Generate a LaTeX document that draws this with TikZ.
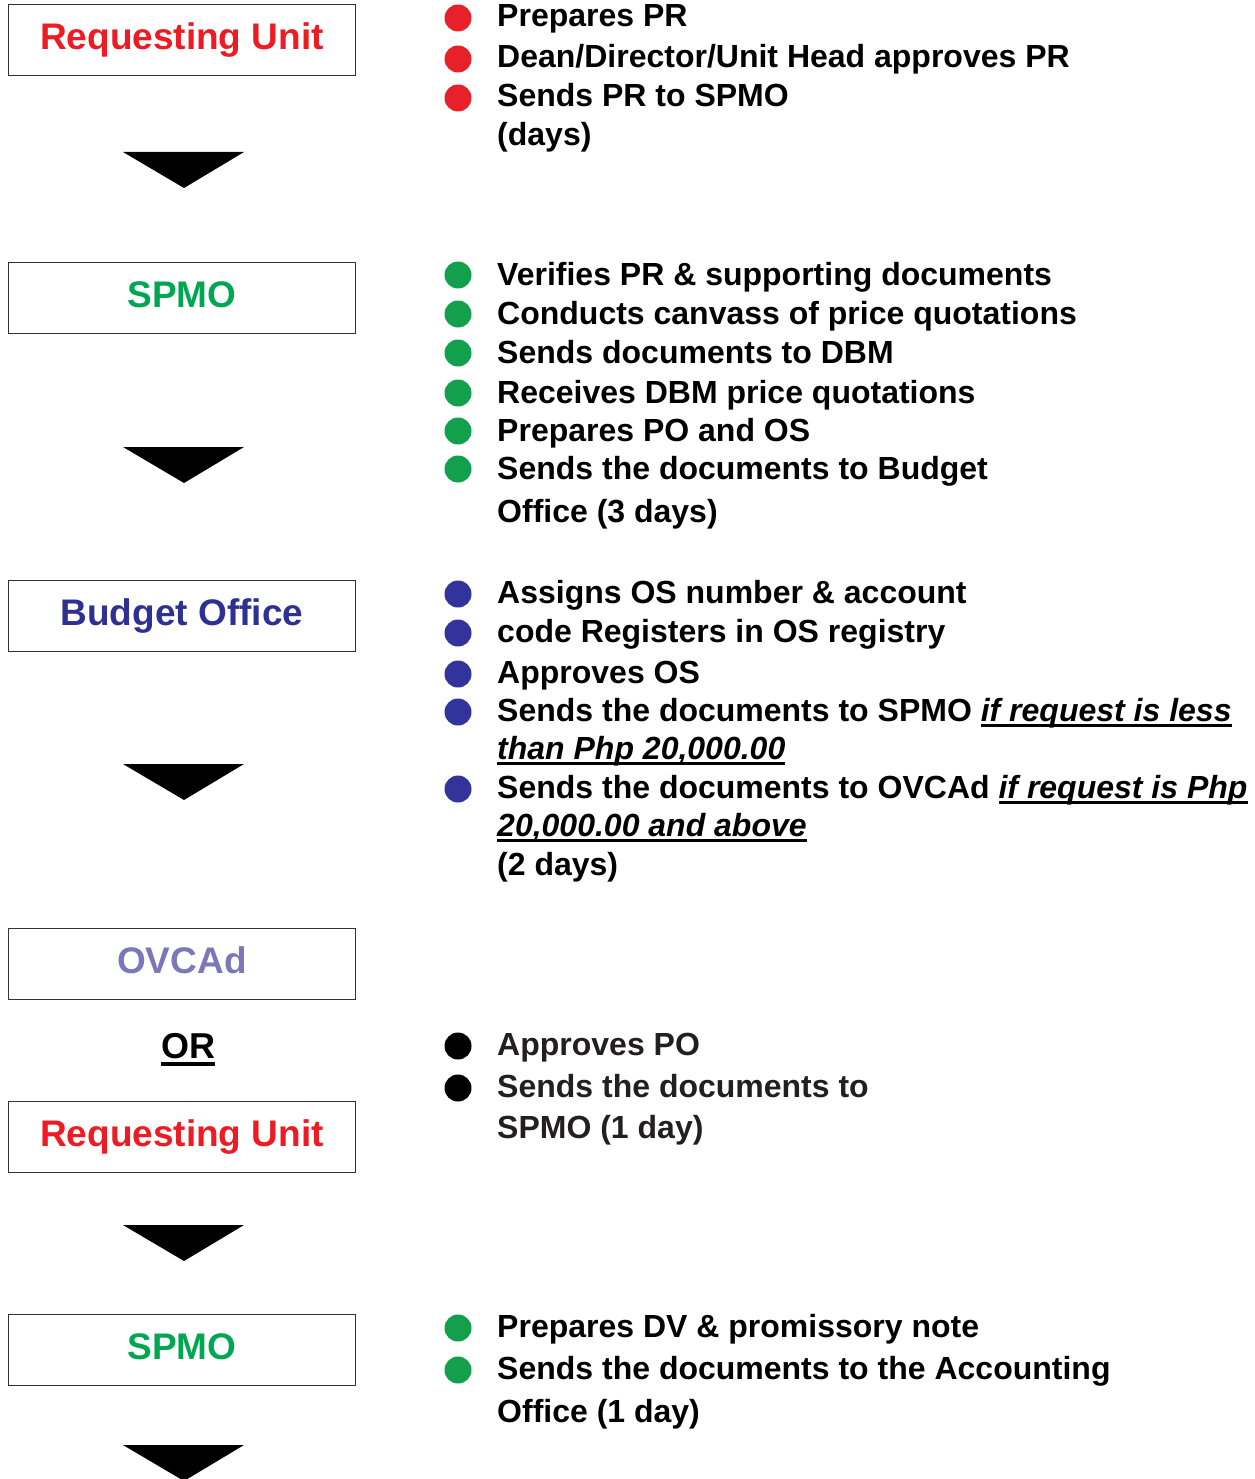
\documentclass[tikz,border=0pt]{standalone}
\usepackage{fontspec}
\setmainfont{Liberation Sans}
\definecolor{ruRed}{HTML}{ED1C24}
\definecolor{spGreen}{HTML}{00A651}
\definecolor{boBlue}{HTML}{2E3192}
\definecolor{ovLav}{HTML}{7B77B8}
\definecolor{bulRed}{HTML}{E8202A}
\definecolor{bulGreen}{HTML}{12A04C}
\definecolor{bulBlue}{HTML}{33339C}
\definecolor{darkText}{HTML}{231F20}
\newcommand\myul[1]{\leavevmode\setbox0=\hbox{#1}\rlap{\rule[-6pt]{\wd0}{2.6pt}}\box0}
\newcommand\myulthick[1]{\leavevmode\setbox0=\hbox{#1}\rlap{\rule[-7.5pt]{\wd0}{3.2pt}}\box0}
\tikzset{
  unitbox/.style={draw=black!80, line width=0.9pt, minimum width=347pt, minimum height=71pt,
    inner sep=0pt, text height=26pt, text depth=7pt, anchor=north west,
    font=\fontsize{37}{44}\selectfont\bfseries},
  itemtext/.style={anchor=base west, inner sep=0pt, font=\fontsize{32}{38}\selectfont\bfseries},
  bulletdot/.style={circle, inner sep=0pt, minimum size=27pt},
  flowarrow/.style={fill=black},
}
\newcommand\flowmark[1]{\fill[flowarrow] (123,#1) -- (244,#1) -- (184,{#1+36}) -- cycle;}
\begin{document}
\begin{tikzpicture}[x=1pt,y=-1pt]
\useasboundingbox[fill=white] (0,0) rectangle (1254,1479);

% boxes
\node[unitbox, text=ruRed] (ru1) at (8,4) {Requesting Unit};
\node[unitbox, text=spGreen] (sp1) at (8,262) {SPMO};
\node[unitbox, text=boBlue] (bo) at (8,580) {Budget Office};
\node[unitbox, text=ovLav] (ov) at (8,928) {OVCAd};
\node[anchor=base, inner sep=0pt, font=\fontsize{36}{44}\selectfont\bfseries] (or) at (188,1058) {\myulthick{OR}};
\node[unitbox, text=ruRed] (ru2) at (8,1101) {Requesting Unit};
\node[unitbox, text=spGreen] (sp2) at (8,1314) {SPMO};

% arrows
\flowmark{152}
\flowmark{447}
\flowmark{764}
\flowmark{1225}
\flowmark{1445}

% group 1
\foreach \y/\n in {27/a,68/b,107/c} \node[bulletdot, fill=bulRed] (g1\n) at (458,{\y-9}) {};
\node[itemtext] (t1a) at (497,27) {Prepares PR};
\node[itemtext] (t1b) at (497,68) {Dean/Director/Unit Head approves PR};
\node[itemtext] (t1c) at (497,107) {Sends PR to SPMO};
\node[itemtext] (t1d) at (497,146) {(days)};

% group 2
\foreach \y/\n in {285/a,324/b,363/c,403/d,441/e,479/f} \node[bulletdot, fill=bulGreen] (g2\n) at (458,{\y-10}) {};
\node[itemtext] (t2a) at (497,285) {Verifies PR \& supporting documents};
\node[itemtext] (t2b) at (497,324) {Conducts canvass of price quotations};
\node[itemtext] (t2c) at (497,363) {Sends documents to DBM};
\node[itemtext] (t2d) at (497,403) {Receives DBM price quotations};
\node[itemtext] (t2e) at (497,441) {Prepares PO and OS};
\node[itemtext] (t2f) at (497,479) {Sends the documents to Budget};
\node[itemtext] (t2g) at (497,522) {Office (3 days)};

% group 3
\foreach \y/\n in {603/a,642/b,683/c,721/d,798/e} \node[bulletdot, fill=bulBlue] (g3\n) at (458,{\y-9}) {};
\node[itemtext] (t3a) at (497,603) {Assigns OS number \& account};
\node[itemtext] (t3b) at (497,642) {code Registers in OS registry};
\node[itemtext] (t3c) at (497,683) {Approves OS};
\node[itemtext] (t3d) at (497,721) {Sends the documents to SPMO \myul{\itshape if request is less}};
\node[itemtext] (t3e) at (497,759) {\myul{\itshape than Php 20,000.00}};
\node[itemtext] (t3f) at (497,798) {Sends the documents to OVCAd \myul{\itshape if request is Php}};
\node[itemtext] (t3g) at (497,836) {\myul{\itshape 20,000.00 and above}};
\node[itemtext] (t3h) at (497,875) {(2 days)};

% group 4
\foreach \y/\n in {1055/a,1097/b} \node[bulletdot, fill=black] (g4\n) at (458,{\y-9}) {};
\node[itemtext, text=darkText] (t4a) at (497,1055) {Approves PO};
\node[itemtext, text=darkText] (t4b) at (497,1097) {Sends the documents to};
\node[itemtext, text=darkText] (t4c) at (497,1138) {SPMO (1 day)};

% group 5
\foreach \y/\n in {1337/a,1379/b} \node[bulletdot, fill=bulGreen] (g5\n) at (458,{\y-9}) {};
\node[itemtext] (t5a) at (497,1337) {Prepares DV \& promissory note};
\node[itemtext] (t5b) at (497,1379) {Sends the documents to the Accounting};
\node[itemtext] (t5c) at (497,1422) {Office (1 day)};
\end{tikzpicture}
\end{document}
